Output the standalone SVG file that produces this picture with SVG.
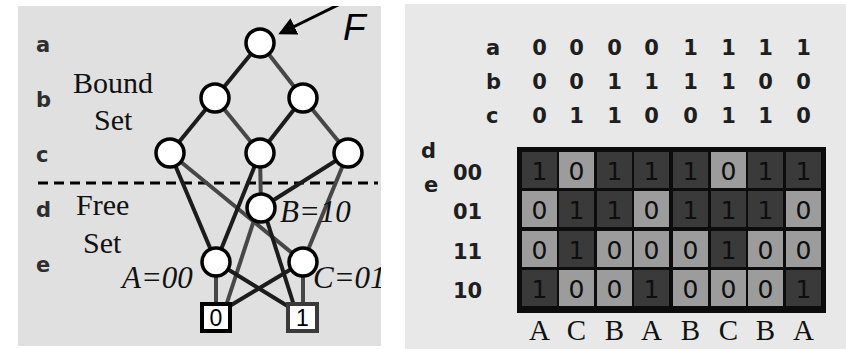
<svg xmlns="http://www.w3.org/2000/svg" width="846" height="349" viewBox="0 0 846 349">
  <style>
    .sans { font-family: "Liberation Sans", Arial, sans-serif; }
    .wide { font-family: "DejaVu Sans", Verdana, sans-serif; }
    .serif { font-family: "Liberation Serif", "Times New Roman", serif; }
    .var { font-size: 21px; font-weight: bold; fill: #2e2e2e; }
    .set { font-size: 30px; fill: #111; }
    .lbl { font-size: 31px; font-style: italic; fill: #111; }
    .node { fill: #fff; stroke: #000; stroke-width: 3.5; }
    .e1 { stroke: #1c1c1c; stroke-width: 4; fill: none; }
    .e0 { stroke: #474747; stroke-width: 4; fill: none; }
    .hd { font-size: 21px; font-weight: bold; fill: #1e1e1e; text-anchor: middle; }
    .rl { font-size: 21px; font-weight: bold; fill: #1e1e1e; }
    .one { fill: #3a3a3a; }
    .zero { fill: #9c9c9c; }
    .cv { font-size: 25px; fill: #0e0e0e; text-anchor: middle; }
    .col { font-size: 29px; fill: #111; text-anchor: middle; }
  </style>
  <defs>
    <marker id="arrowhead" markerWidth="6" markerHeight="6" refX="5" refY="3" orient="auto" markerUnits="strokeWidth">
      <path d="M0,0 L6,3 L0,6 z" fill="#000"/>
    </marker>
    <clipPath id="leftPanel">
      <rect x="18" y="6" width="363" height="340"/>
    </clipPath>
  </defs>

  <rect width="846" height="349" fill="#ffffff"/>

  <!-- left panel: BDD with bound/free variable split -->
  <g id="bdd-panel" clip-path="url(#leftPanel)">
    <rect x="18" y="6" width="363" height="340" fill="#e0e0e0"/>

    <g id="var-labels" class="wide var">
      <text x="36" y="52">a</text>
      <text x="36" y="107">b</text>
      <text x="36" y="162">c</text>
      <text x="36" y="217">d</text>
      <text x="36" y="272">e</text>
    </g>

    <g id="set-labels" class="serif set">
      <text x="73" y="93">Bound</text>
      <text x="94" y="130">Set</text>
      <text x="76" y="215">Free</text>
      <text x="83" y="253">Set</text>
    </g>

    <!-- cut line between bound and free variables -->
    <line x1="38" y1="183" x2="378" y2="183" stroke="#000" stroke-width="3" stroke-dasharray="10 6"/>

    <g id="connectors">
      <line class="e1" x1="260" y1="43" x2="215" y2="98"/>
      <line class="e0" x1="260" y1="43" x2="303" y2="98"/>
      <line class="e1" x1="215" y1="98" x2="170" y2="153"/>
      <line class="e0" x1="215" y1="98" x2="260" y2="153"/>
      <line class="e1" x1="303" y1="98" x2="260" y2="153"/>
      <line class="e0" x1="303" y1="98" x2="348" y2="153"/>
      <line class="e1" x1="170" y1="153" x2="216" y2="262"/>
      <line class="e0" x1="170" y1="153" x2="303" y2="262"/>
      <line class="e1" x1="260" y1="153" x2="216" y2="262"/>
      <line class="e0" x1="260" y1="153" x2="261" y2="208"/>
      <line class="e1" x1="348" y1="153" x2="261" y2="208"/>
      <line class="e0" x1="348" y1="153" x2="303" y2="262"/>
      <line class="e0" x1="258" y1="208" x2="222" y2="318"/>
      <line class="e1" x1="263" y1="208" x2="298" y2="318"/>
      <line class="e0" x1="216" y1="262" x2="216" y2="318"/>
      <line class="e1" x1="216" y1="262" x2="294" y2="310"/>
      <line class="e0" x1="303" y1="262" x2="303" y2="318"/>
      <line class="e1" x1="303" y1="262" x2="228" y2="307"/>
      <!-- function pointer -->
      <line x1="340" y1="4" x2="281" y2="33" stroke="#000" stroke-width="3" marker-end="url(#arrowhead)"/>
    </g>

    <g id="node-a"><circle class="node" cx="260" cy="43" r="14"/></g>
    <g id="node-b0"><circle class="node" cx="215" cy="98" r="14"/></g>
    <g id="node-b1"><circle class="node" cx="303" cy="98" r="14"/></g>
    <g id="node-c0"><circle class="node" cx="170" cy="153" r="14"/></g>
    <g id="node-c1"><circle class="node" cx="260" cy="153" r="14"/></g>
    <g id="node-c2"><circle class="node" cx="348" cy="153" r="14"/></g>
    <g id="node-B">
      <circle class="node" cx="261" cy="208" r="14"/>
      <text class="serif lbl" x="280" y="222">B=10</text>
    </g>
    <g id="node-A">
      <circle class="node" cx="216" cy="262" r="14"/>
      <text class="serif lbl" x="122" y="288">A=00</text>
    </g>
    <g id="node-C">
      <circle class="node" cx="303" cy="262" r="14"/>
      <text class="serif lbl" x="313" y="288">C=01</text>
    </g>
    <g id="term-0">
      <rect x="202" y="304" width="28" height="27" fill="#fff" stroke="#000" stroke-width="4"/>
      <text class="sans" x="216" y="326" font-size="23" text-anchor="middle" fill="#000">0</text>
    </g>
    <g id="term-1">
      <rect x="288" y="304" width="29" height="27" fill="#fff" stroke="#3a3a3a" stroke-width="4"/>
      <text class="sans" x="302.5" y="326" font-size="23" text-anchor="middle" fill="#000">1</text>
    </g>
    <g id="label-F">
      <text class="sans" x="343" y="40" font-size="37" font-style="italic" fill="#000">F</text>
    </g>
  </g>

  <!-- right panel: decomposition chart -->
  <g id="chart-panel">
    <rect x="405" y="4" width="441" height="345" fill="#e8e8e8"/>

    <g id="header" class="wide">
      <text class="rl" x="486" y="55">a</text>
      <text class="rl" x="486" y="89">b</text>
      <text class="rl" x="486" y="123">c</text>
      <g class="hd">
        <text x="539.5" y="55">0</text><text x="576.5" y="55">0</text><text x="614.5" y="55">0</text><text x="651.5" y="55">0</text>
        <text x="690.5" y="55">1</text><text x="728.5" y="55">1</text><text x="765.5" y="55">1</text><text x="803.5" y="55">1</text>
        <text x="539.5" y="89">0</text><text x="576.5" y="89">0</text><text x="614.5" y="89">1</text><text x="651.5" y="89">1</text>
        <text x="690.5" y="89">1</text><text x="728.5" y="89">1</text><text x="765.5" y="89">0</text><text x="803.5" y="89">0</text>
        <text x="539.5" y="123">0</text><text x="576.5" y="123">1</text><text x="614.5" y="123">1</text><text x="651.5" y="123">0</text>
        <text x="690.5" y="123">0</text><text x="728.5" y="123">1</text><text x="765.5" y="123">1</text><text x="803.5" y="123">0</text>
      </g>
      <text class="rl" x="421" y="158">d</text>
      <text class="rl" x="424" y="192">e</text>
      <text class="rl" x="453" y="180">00</text>
      <text class="rl" x="453" y="219">01</text>
      <text class="rl" x="453" y="259">11</text>
      <text class="rl" x="453" y="298">10</text>
    </g>

    <g id="grid">
      <rect x="517" y="147" width="309" height="166" fill="#0c0c0c"/>
      <!-- row 00 -->
      <rect class="one" x="522" y="152" width="35" height="36"/>
      <rect class="zero" x="559" y="152" width="35" height="36"/>
      <rect class="one" x="597" y="152" width="35" height="36"/>
      <rect class="one" x="634" y="152" width="35" height="36"/>
      <rect class="one" x="673" y="152" width="35" height="36"/>
      <rect class="zero" x="711" y="152" width="35" height="36"/>
      <rect class="one" x="748" y="152" width="35" height="36"/>
      <rect class="one" x="786" y="152" width="35" height="36"/>
      <!-- row 01 -->
      <rect class="zero" x="522" y="191" width="35" height="36"/>
      <rect class="one" x="559" y="191" width="35" height="36"/>
      <rect class="one" x="597" y="191" width="35" height="36"/>
      <rect class="zero" x="634" y="191" width="35" height="36"/>
      <rect class="one" x="673" y="191" width="35" height="36"/>
      <rect class="one" x="711" y="191" width="35" height="36"/>
      <rect class="one" x="748" y="191" width="35" height="36"/>
      <rect class="zero" x="786" y="191" width="35" height="36"/>
      <!-- row 11 -->
      <rect class="zero" x="522" y="231" width="35" height="36"/>
      <rect class="one" x="559" y="231" width="35" height="36"/>
      <rect class="zero" x="597" y="231" width="35" height="36"/>
      <rect class="zero" x="634" y="231" width="35" height="36"/>
      <rect class="zero" x="673" y="231" width="35" height="36"/>
      <rect class="one" x="711" y="231" width="35" height="36"/>
      <rect class="zero" x="748" y="231" width="35" height="36"/>
      <rect class="zero" x="786" y="231" width="35" height="36"/>
      <!-- row 10 -->
      <rect class="one" x="522" y="270" width="35" height="36"/>
      <rect class="zero" x="559" y="270" width="35" height="36"/>
      <rect class="zero" x="597" y="270" width="35" height="36"/>
      <rect class="one" x="634" y="270" width="35" height="36"/>
      <rect class="zero" x="673" y="270" width="35" height="36"/>
      <rect class="zero" x="711" y="270" width="35" height="36"/>
      <rect class="zero" x="748" y="270" width="35" height="36"/>
      <rect class="one" x="786" y="270" width="35" height="36"/>

      <g class="wide cv">
        <text x="539.5" y="180">1</text><text x="576.5" y="180">0</text><text x="614.5" y="180">1</text><text x="651.5" y="180">1</text>
        <text x="690.5" y="180">1</text><text x="728.5" y="180">0</text><text x="765.5" y="180">1</text><text x="803.5" y="180">1</text>
        <text x="539.5" y="219">0</text><text x="576.5" y="219">1</text><text x="614.5" y="219">1</text><text x="651.5" y="219">0</text>
        <text x="690.5" y="219">1</text><text x="728.5" y="219">1</text><text x="765.5" y="219">1</text><text x="803.5" y="219">0</text>
        <text x="539.5" y="259">0</text><text x="576.5" y="259">1</text><text x="614.5" y="259">0</text><text x="651.5" y="259">0</text>
        <text x="690.5" y="259">0</text><text x="728.5" y="259">1</text><text x="765.5" y="259">0</text><text x="803.5" y="259">0</text>
        <text x="539.5" y="298">1</text><text x="576.5" y="298">0</text><text x="614.5" y="298">0</text><text x="651.5" y="298">1</text>
        <text x="690.5" y="298">0</text><text x="728.5" y="298">0</text><text x="765.5" y="298">0</text><text x="803.5" y="298">1</text>
      </g>
    </g>

    <g id="column-classes" class="serif col">
      <text x="539.5" y="340">A</text>
      <text x="576.5" y="340">C</text>
      <text x="614.5" y="340">B</text>
      <text x="651.5" y="340">A</text>
      <text x="690.5" y="340">B</text>
      <text x="728.5" y="340">C</text>
      <text x="765.5" y="340">B</text>
      <text x="803.5" y="340">A</text>
    </g>
  </g>
</svg>
